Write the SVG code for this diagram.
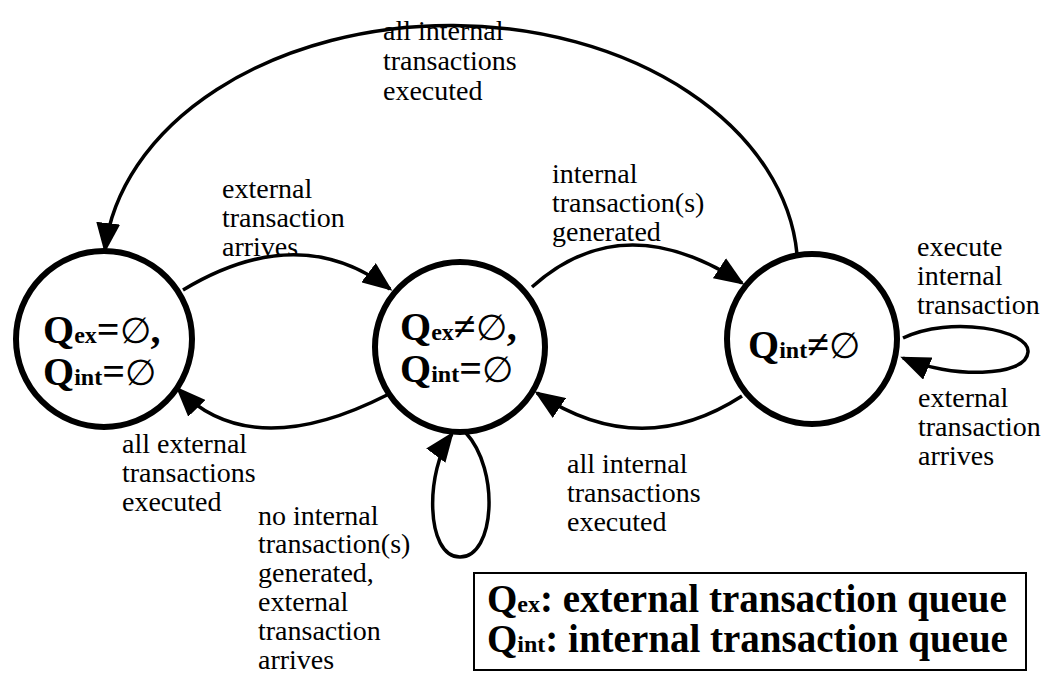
<svg xmlns="http://www.w3.org/2000/svg" width="1060" height="685" viewBox="0 0 1060 685">
  <style>
    .state { fill: #fff; stroke: #000; stroke-width: 6; }
    .edge { fill: none; stroke: #000; stroke-width: 3.5; marker-end: url(#arrow); }
    .txt { font-family: "Liberation Serif", "Times New Roman", "DejaVu Serif", serif; fill: #000; }
    .lbl { font-size: 28px; }
    .st { font-size: 40px; font-weight: bold; }
    .sub { font-size: 24px; }
    .sym { font-weight: normal; font-size: 36px; }
    .leg { font-size: 39px; font-weight: bold; }
    .box { fill: #fff; stroke: #000; stroke-width: 2; }
  </style>
  <defs>
    <marker id="arrow" markerUnits="userSpaceOnUse" markerWidth="30" markerHeight="24" viewBox="0 0 30 24" refX="27" refY="12" orient="auto">
      <path d="M0,0 L30,12 L0,24 z" fill="#000"/>
    </marker>
  </defs>

  <rect width="1060" height="685" fill="#fff"/>

  <!-- transitions -->
  <g id="connectors">
    <path class="edge" d="M 797 254 A 347 245 0 0 0 105 250"/>
    <path class="edge" d="M 183 290 Q 299 220 390 289"/>
    <path class="edge" d="M 532 287 Q 623 205 742 283"/>
    <path class="edge" d="M 387 395 Q 251 464 178 389"/>
    <path class="edge" d="M 742 396 Q 640 462 537 393"/>
    <path class="edge" d="M 466 433 C 500 470 495 557 460 557 C 425 557 425 470 452 434"/>
    <path class="edge" d="M 903 338 C 950 315 1030 330 1028 352 C 1026 378 950 378 903 358"/>
  </g>

  <!-- states -->
  <g id="state-empty">
    <circle class="state" cx="104" cy="339" r="88"/>
    <text class="txt st" x="43" y="343">Q<tspan class="sub">ex</tspan>=<tspan class="sym">∅</tspan>,</text>
    <text class="txt st" x="43" y="385">Q<tspan class="sub">int</tspan>=<tspan class="sym">∅</tspan></text>
  </g>
  <g id="state-external">
    <circle class="state" cx="460" cy="347" r="85"/>
    <text class="txt st" x="400" y="340">Q<tspan class="sub">ex</tspan>≠<tspan class="sym">∅</tspan>,</text>
    <text class="txt st" x="400" y="382">Q<tspan class="sub">int</tspan>=<tspan class="sym">∅</tspan></text>
  </g>
  <g id="state-internal">
    <circle class="state" cx="812" cy="339" r="85"/>
    <text class="txt st" x="748" y="358">Q<tspan class="sub">int</tspan>≠<tspan class="sym">∅</tspan></text>
  </g>

  <!-- transition labels -->
  <g id="labels" class="txt lbl">
    <text x="383" y="40">all internal</text>
    <text x="383" y="70">transactions</text>
    <text x="383" y="100">executed</text>

    <text x="222" y="198">external</text>
    <text x="222" y="227">transaction</text>
    <text x="222" y="256">arrives</text>

    <text x="552" y="183">internal</text>
    <text x="552" y="212">transaction(s)</text>
    <text x="552" y="241">generated</text>

    <text x="917" y="256">execute</text>
    <text x="917" y="285">internal</text>
    <text x="917" y="314">transaction</text>

    <text x="918" y="407">external</text>
    <text x="918" y="436">transaction</text>
    <text x="918" y="465">arrives</text>

    <text x="122" y="453">all external</text>
    <text x="122" y="482">transactions</text>
    <text x="122" y="511">executed</text>

    <text x="567" y="473">all internal</text>
    <text x="567" y="502">transactions</text>
    <text x="567" y="531">executed</text>

    <text x="258" y="525">no internal</text>
    <text x="258" y="553">transaction(s)</text>
    <text x="258" y="582">generated,</text>
    <text x="258" y="611">external</text>
    <text x="258" y="640">transaction</text>
    <text x="258" y="669">arrives</text>
  </g>

  <!-- legend -->
  <g id="legend">
    <rect class="box" x="474" y="573" width="552" height="97"/>
    <text class="txt leg" x="487" y="612">Q<tspan class="sub">ex</tspan>: external transaction queue</text>
    <text class="txt leg" x="487" y="652">Q<tspan class="sub">int</tspan>: internal transaction queue</text>
  </g>
</svg>
